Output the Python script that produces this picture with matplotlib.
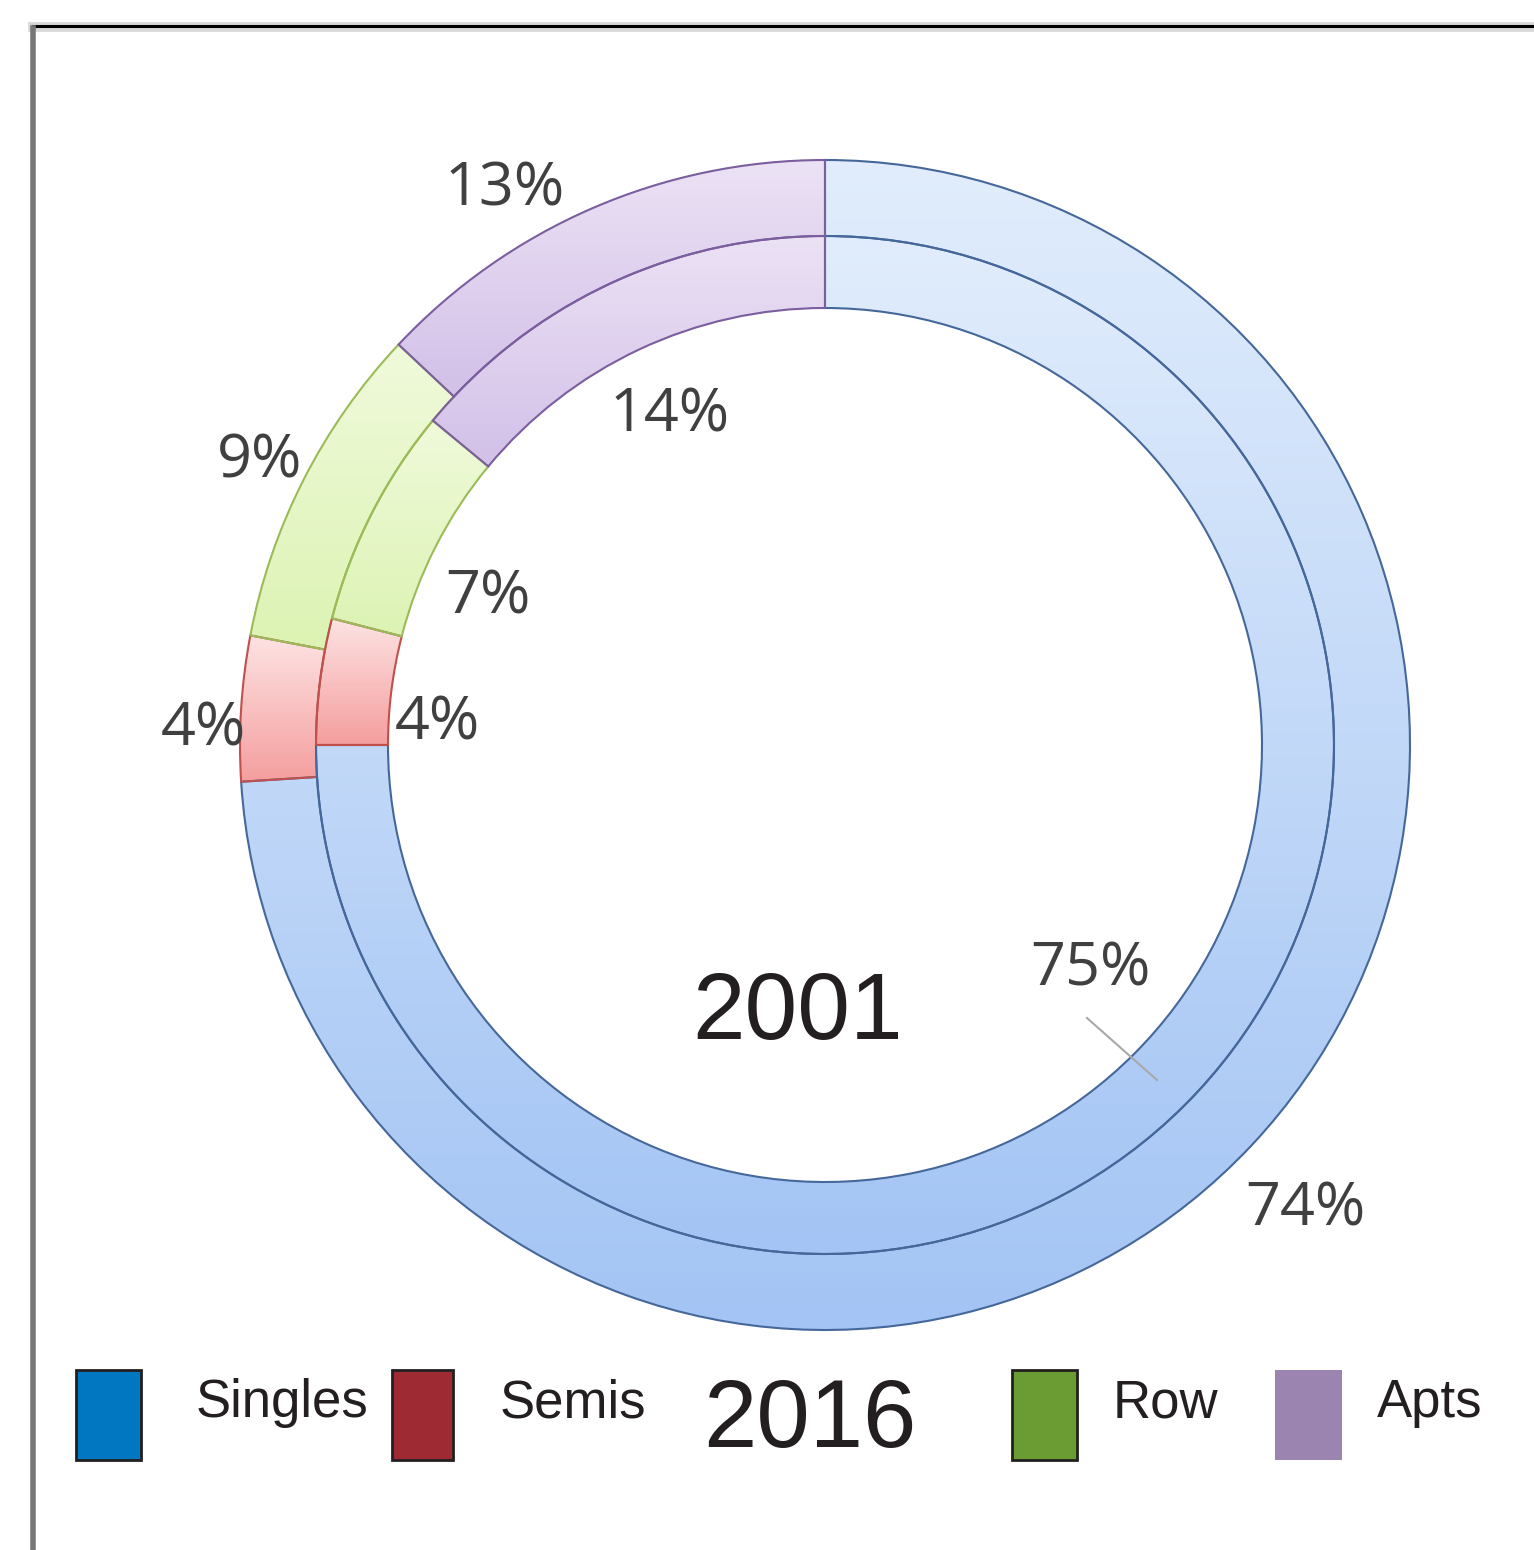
import numpy as np
import matplotlib.pyplot as plt
from matplotlib.colors import LinearSegmentedColormap
from matplotlib.patches import Rectangle
from matplotlib.lines import Line2D

W, H = 1534, 1550

# data
categories = ['Singles', 'Semis', 'Row', 'Apts']
share_2016 = [74, 4, 9, 13]   # outer ring
share_2001 = [75, 4, 7, 14]   # inner ring

legend_colors = ['#0077c0', '#9e2b33', '#6a9c33', '#9b84b0']
top_colors = ['#e1edfc', '#fde3e3', '#f0fadb', '#ece2f5']
bottom_colors = ['#a3c4f4', '#f59e9e', '#dcf3b3', '#d2c0e8']
edge_colors = ['#46679a', '#c0504d', '#9bbb59', '#7a5e9e']

fig = plt.figure(figsize=(W / 100, H / 100), dpi=100)
ax = fig.add_axes([0, 0, 1, 1])


def py(y):
    # pixel row -> data y
    return H - y


cx, cy = 825, py(745)

outer, _ = ax.pie(share_2016, radius=585, center=(cx, cy), startangle=90,
                  counterclock=False,
                  wedgeprops=dict(width=76, linewidth=1.5, zorder=3))
inner, _ = ax.pie(share_2001, radius=509, center=(cx, cy), startangle=90,
                  counterclock=False,
                  wedgeprops=dict(width=72, linewidth=1.5, zorder=3))

# gradient fills clipped to each wedge
grad = np.linspace(0, 1, 256).reshape(-1, 1)
for ring in (outer, inner):
    for i, w in enumerate(ring):
        w.set_facecolor('none')
        w.set_edgecolor(edge_colors[i])
        cmap = LinearSegmentedColormap.from_list('g', [top_colors[i], bottom_colors[i]])
        ext = w.get_path().get_extents()
        im = ax.imshow(grad, cmap=cmap, aspect='auto', zorder=2,
                       extent=(ext.x0, ext.x1, ext.y0, ext.y1), origin='upper')
        im.set_clip_path(w)

# percentage labels
pct_font = dict(fontsize=44, color='#404040', family='Open Sans',
                ha='center', va='center')
outer_pos = [(1305, 1210), (203, 729), (260, 462), (505, 190)]
inner_pos = [(1090, 970), (437, 724), (488, 597), (670, 415)]
for v, (x, y) in zip(share_2016, outer_pos):
    ax.text(x, py(y), f'{v}%', **pct_font)
for v, (x, y) in zip(share_2001, inner_pos):
    ax.text(x, py(y), f'{v}%', **pct_font)
ax.plot([1087, 1157], [py(1018), py(1080)], color='#a8a8a8', lw=1.5, zorder=4)

# year labels
ax.text(798, py(1015), '2001', fontsize=68, family='Liberation Sans',
        color='#231f20', ha='center', va='center')
ax.text(810, py(1422), '2016', fontsize=69, family='Liberation Sans',
        color='#231f20', ha='center', va='center')

# legend
box_x = [76, 392, 1012, 1275]
box_w = [65, 61, 65, 67]
text_x = [282, 573, 1165, 1430]
for i, name in enumerate(categories):
    ec = 'none' if name == 'Apts' else '#231f20'
    ax.add_patch(Rectangle((box_x[i], py(1460)), box_w[i], 90,
                           facecolor=legend_colors[i], edgecolor=ec, lw=2))
    ax.text(text_x[i], py(1403), name, fontsize=38, family='Liberation Sans',
            color='#231f20', ha='center', va='center')

ax.set_xlim(0, W)
ax.set_ylim(0, H)
ax.set_aspect('equal')
ax.axis('off')

# frame remnants of the original image
fig.add_artist(Line2D([33 / W, 1], [1 - 27 / H] * 2, transform=fig.transFigure,
                      color='#d8d8d8', lw=7))
fig.add_artist(Line2D([33 / W, 1], [1 - 26 / H] * 2, transform=fig.transFigure,
                      color='black', lw=2.2))
fig.add_artist(Line2D([33 / W, 33 / W], [0, 1 - 28 / H], transform=fig.transFigure,
                      color='#777777', lw=4))

fig.savefig('out.png', dpi=100)
